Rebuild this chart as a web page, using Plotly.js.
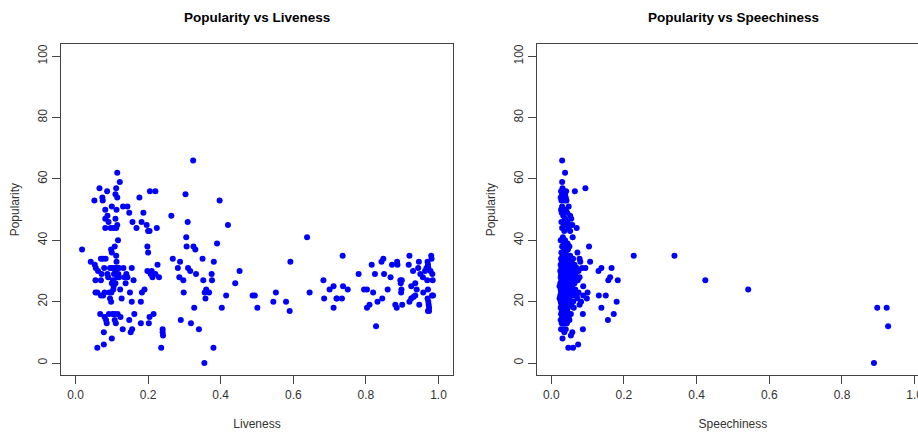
<!DOCTYPE html>
<html><head><meta charset="utf-8">
<script src="https://cdn.plot.ly/plotly-3.0.1.min.js"></script>
<style>html,body{margin:0;padding:0;overflow:hidden;background:#fff}#chart{width:932px;height:435px}</style>
</head><body><div id="chart"></div>
<script>
// ---- Panel 1: Popularity vs Liveness ----
const liveness = [
0.018,0.042,0.052,0.053,0.056,0.055,0.055,0.060,0.062,0.060,
0.066,0.068,0.070,0.070,0.070,0.072,0.074,0.075,0.075,0.076,0.078,0.078,0.079,0.080,0.080,
0.082,0.082,0.082,0.083,0.084,0.086,0.087,0.088,0.088,0.090,0.091,0.092,0.093,0.095,0.095,
0.097,0.098,0.098,0.099,0.100,0.100,0.100,0.100,0.100,0.102,
0.103,0.104,0.105,0.105,0.106,0.107,0.108,0.108,0.108,0.110,0.110,0.110,0.110,0.111,0.112,
0.112,0.112,0.113,0.113,0.114,0.115,0.115,0.115,0.115,0.116,0.117,0.118,0.120,0.120,0.122,
0.123,0.124,0.127,0.130,0.131,0.132,0.135,0.138,0.140,0.143,0.143,0.148,0.148,0.150,0.152,
0.155,0.155,0.156,0.157,0.160,0.162,0.168,0.176,0.180,0.180,0.182,0.183,0.187,0.190,0.196,
0.198,0.198,0.200,0.200,0.202,0.204,0.205,0.204,
0.207,0.210,0.212,0.215,0.220,0.220,0.224,0.226,0.230,0.236,0.240,0.240,0.241,0.264,0.268,
0.282,0.286,0.288,0.290,0.297,0.298,0.303,0.305,0.306,0.309,0.310,0.316,0.318,0.324,0.325,
0.327,0.330,0.332,0.340,0.350,0.352,0.355,0.356,0.358,0.360,0.368,0.375,0.376,0.380,0.381,
0.390,0.397,
0.403,0.415,0.420,0.440,0.452,0.488,0.494,0.501,0.545,0.552,0.580,0.590,0.592,0.638,0.645,
0.683,0.685,
0.700,0.711,0.719,0.720,0.734,0.711,0.736,0.737,0.750,0.780,0.795,0.803,0.803,0.810,0.820,
0.816,0.825,0.828,0.832,0.843,0.848,0.845,0.850,0.860,0.868,0.872,0.886,0.887,0.881,0.885,
0.895,0.899,0.896,0.898,0.897,0.900,0.920,0.918,0.925,0.930,0.936,0.920,0.925,0.931,0.936,
0.946,0.944,0.947,0.940,0.950,0.957,0.958,0.963,0.967,0.970,0.971,0.972,0.969,0.971,0.970,
0.972,0.973,0.974,0.971,0.974,0.980,0.981,0.978,0.983,0.984,0.982,0.985
];
const popularityL = [
37,33,53,32,31,27,23,23,30,5,
57,16,34,27,22,29,54,53,34,22,10,6,31,23,15,
50,47,44,34,14,13,56,48,29,28,46,16,23,31,21,
44,37,20,23,51,36,26,8,31,16,
27,24,44,25,29,31,38,16,14,55,47,26,30,13,57,
44,35,50,33,31,62,54,45,28,16,40,29,31,28,59,
24,15,21,11,51,31,28,26,29,51,28,49,14,23,10,
31,20,11,46,27,16,44,54,20,13,46,23,49,24,45,
38,30,36,43,13,15,56,43,
29,30,28,16,56,29,44,32,28,5,11,10,9,48,34,
31,28,33,14,27,23,55,41,38,46,31,30,13,66,38,
18,37,29,11,34,27,0,23,21,24,23,29,27,5,33,
39,53,
18,22,45,26,30,22,22,18,20,23,20,17,33,41,23,
27,21,
24,25,21,21,21,18,35,25,24,29,24,24,18,19,23,
32,29,12,20,33,34,21,29,24,28,32,33,32,19,18,
27,27,26,24,23,19,35,32,25,30,26,20,21,21.5,22,
33,31,19,24,29,28,23,30,31,33,32,31,27,24,21,
20,19,18,17,17,35,34,30,29,27,22,22
];

// ---- Panel 2: Popularity vs Speechiness ----
const speechiness = [
0.030,0.038,0.030,0.031,0.094,0.027,0.035,0.041,0.065,0.030,0.038,0.026,0.033,0.040,
0.028,0.036,0.042,0.030,0.048,0.027,0.034,0.040,0.029,0.044,0.033,0.052,0.038,0.055,
0.028,0.044,0.035,0.050,0.058,0.030,0.047,0.070,0.036,0.052,0.032,0.059,0.026,0.038,
0.034,0.045,0.030,0.041,0.050,0.104,0.036,0.046,0.028,0.040,0.072,0.031,0.037,0.052,
0.027,0.033,0.044,0.060,0.078,0.029,0.038,0.048,0.056,0.080,0.107,
0.026,0.035,0.042,0.053,0.064,
0.028,0.033,0.040,0.047,0.058,0.070,0.085,0.094,
0.025,0.031,0.037,0.044,0.051,0.062,0.075,
0.027,0.034,0.040,0.046,0.055,0.066,
0.026,0.030,0.036,0.043,0.050,0.060,0.068,0.078,
0.028,0.033,0.039,0.047,0.058,0.073,
0.025,0.031,0.037,0.044,0.053,0.064,
0.023,0.029,0.035,0.041,0.049,0.057,0.088,
0.026,0.032,0.038,0.045,0.054,0.066,
0.027,0.034,0.040,0.048,0.056,0.063,0.075,0.100,
0.025,0.031,0.037,0.044,0.052,0.061,0.070,0.088,
0.023,0.029,0.036,0.042,0.050,0.072,0.098,
0.026,0.032,0.039,0.047,0.060,0.082,
0.028,0.035,0.043,0.055,0.078,
0.026,0.031,0.038,0.046,0.062,
0.029,0.036,0.044,
0.027,0.033,0.041,0.054,0.087,
0.030,0.038,0.048,
0.026,0.032,0.040,0.050,
0.029,0.035,0.043,
0.027,0.034,0.040,0.087,
0.036,0.058,0.054,0.031,0.074,0.047,0.060,
0.130,0.138,0.166,0.157,0.162,0.183,0.131,0.150,0.138,0.180,0.172,0.156,
0.227,0.339,0.424,0.542,0.897,0.923,0.927,0.888
];
const popularityS = [
66,62,59,57,57,56,56,56,56,55,55,54,54,54,
53,53,53,51,51,50,50,50,49,49,48,48,47,47,
46,46,45,45,45,44,44,44,43,43,41,41,40,40,
39,39,38,38,38,38,37,37,36,36,36,35,35,35,
34,34,34,34,34,33,33,33,33,33,33,
32,32,32,32,32,
31,31,31,31,31,31,31,31,
30,30,30,30,30,30,30,
29,29,29,29,29,29,
28,28,28,28,28,28,28,28,
27,27,27,27,27,27,
26,26,26,26,26,26,
25,25,25,25,25,25,25,
24,24,24,24,24,24,
23,23,23,23,23,23,23,23,
22,22,22,22,22,22,22,22,
21,21,21,21,21,21,21,
20,20,20,20,20,20,
19,19,19,19,19,
18,18,18,18,18,
17,17,17,
16,16,16,16,16,
15,15,15,
14,14,14,14,
13,13,13,
11,11,11,11,
10,10,9,8,6,5,5,
30,31,31,27,28,27,22,22,18,20,16,14,
35,35,27,24,18,18,12,0
];

const xTicks = [0, 0.2, 0.4, 0.6, 0.8, 1.0];
const xTickText = ["0.0", "0.2", "0.4", "0.6", "0.8", "1.0"];
const yTicks = [0, 20, 40, 60, 80, 100];
const yTickText = ["0", "20", "40", "60", "80", "100"];

const W = 932, H = 435;
const FONT = "Liberation Sans, Arial, sans-serif";
const marker = {color: "#0000FF", size: 6};

const traces = [
  {type: "scatter", mode: "markers", x: liveness, y: popularityL, xaxis: "x", yaxis: "y", marker: marker, hoverinfo: "x+y"},
  {type: "scatter", mode: "markers", x: speechiness, y: popularityS, xaxis: "x2", yaxis: "y2", marker: marker, hoverinfo: "x+y"}
];

function xax(dom, title) {
  return {domain: dom, range: [-0.04, 1.04], tickvals: xTicks, ticktext: xTickText,
    ticks: "outside", ticklen: 8, tickcolor: "#444", tickwidth: 1,
    showline: true, mirror: true, linecolor: "#444", linewidth: 1,
    showgrid: false, zeroline: false, automargin: false,
    tickfont: {family: FONT, size: 12, color: "#333"},
    title: {text: title, font: {family: FONT, size: 12, color: "#333"}, standoff: 18}};
}
function yax(anchor, title) {
  return {domain: [1 - 375.3 / H, 1 - 44 / H], range: [-4, 104], tickvals: yTicks, ticktext: yTickText,
    anchor: anchor, ticks: "outside", ticklen: 8, tickcolor: "#444", tickwidth: 1, tickangle: -90,
    showline: true, mirror: true, linecolor: "#444", linewidth: 1,
    showgrid: false, zeroline: false, automargin: false,
    tickfont: {family: FONT, size: 12, color: "#333"},
    title: {text: title, font: {family: FONT, size: 12, color: "#333"}, standoff: 13}};
}

const layout = {
  width: W, height: H,
  margin: {l: 0, r: 0, t: 0, b: 0},
  paper_bgcolor: "#fff", plot_bgcolor: "#fff",
  showlegend: false,
  xaxis: Object.assign(xax([61 / W, 453 / W], "Liveness"), {anchor: "y"}),
  yaxis: yax("x", "Popularity"),
  xaxis2: Object.assign(xax([536.7 / W, 929.2 / W], "Speechiness"), {anchor: "y2"}),
  yaxis2: yax("x2", "Popularity"),
  annotations: [
    {text: "<b>Popularity vs Liveness</b>", xref: "paper", yref: "paper", x: 257 / W, y: 1 - 17 / H,
     showarrow: false, xanchor: "center", yanchor: "middle", font: {family: FONT, size: 13.5, color: "#000"}},
    {text: "<b>Popularity vs Speechiness</b>", xref: "paper", yref: "paper", x: 733 / W, y: 1 - 17 / H,
     showarrow: false, xanchor: "center", yanchor: "middle", font: {family: FONT, size: 13.5, color: "#000"}}
  ]
};

Plotly.newPlot("chart", traces, layout, {staticPlot: true, displayModeBar: false});
</script>
</body></html>
